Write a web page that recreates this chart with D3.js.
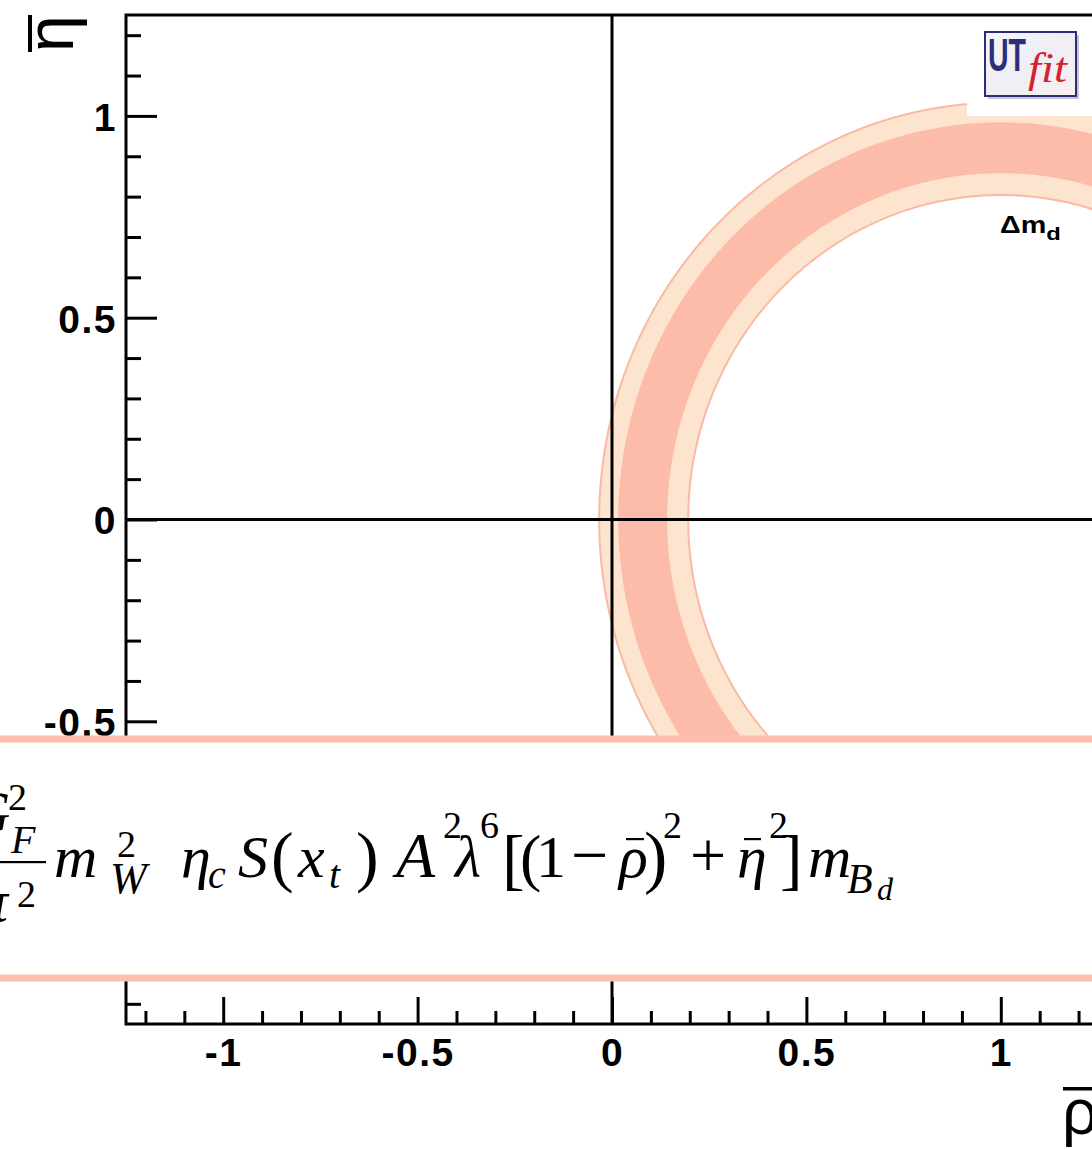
<!DOCTYPE html>
<html>
<head>
<meta charset="utf-8">
<script src="https://cdn.jsdelivr.net/npm/d3@7"></script>
<style>
  html, body { margin: 0; padding: 0; background: #fff; overflow: hidden; }
  svg { display: block; }
</style>
</head>
<body>
<svg id="chart" width="1092" height="1149"></svg>
<script>
// ρ̄–η̄ plane with the Δm_d constraint band
const xDomain = [-1.25, 1.25];
const yDomain = [-1.25, 1.25];
const majorTicks = [-1, -0.5, 0, 0.5, 1];
const majorTickLabels = ["-1", "-0.5", "0", "0.5", "1"];
const minorTicks = [-1.2, -1.1, -0.9, -0.8, -0.7, -0.6, -0.4, -0.3, -0.2, -0.1,
                    0.1, 0.2, 0.3, 0.4, 0.6, 0.7, 0.8, 0.9, 1.1, 1.2];
// Δm_d constraint: circle centred on (ρ̄, η̄) = (1, 0)
const ringCenter = [1, 0];
const band95 = [0.804, 1.033];   // 95% probability radii (inner, outer)
const band68 = [0.858, 0.984];   // 68% probability radii (inner, outer)
const bandLabel = "Δm";
const bandLabelSub = "d";

const svg = d3.select("#chart");
const W = 1092, H = 1149;

const x = d3.scaleLinear().domain(xDomain).range([126, 1098]);
const y = d3.scaleLinear().domain(yDomain).range([1024, 15]);

const col68 = "#fdbca9", col95 = "#fde4cf", colEdge = "#fbb9a5";

// plot clip
const defs = svg.append("defs");
defs.append("clipPath").attr("id", "plotClip").append("rect")
  .attr("x", x(xDomain[0])).attr("y", y(yDomain[1]))
  .attr("width", x(xDomain[1]) - x(xDomain[0]))
  .attr("height", y(yDomain[0]) - y(yDomain[1]));

const angles = d3.range(0, 360, 1).map(d => d * Math.PI / 180);
const circlePts = r => angles.map(a => [x(ringCenter[0] + r * Math.cos(a)), y(ringCenter[1] + r * Math.sin(a))]);
const closed = d3.line().curve(d3.curveLinearClosed);
const ringPath = ([r0, r1]) => closed(circlePts(r1)) + closed(circlePts(r0).reverse());

const ringG = svg.append("g").attr("clip-path", "url(#plotClip)");
ringG.append("path").attr("d", ringPath(band95))
  .attr("fill", col95).attr("fill-rule", "evenodd")
  .attr("stroke", colEdge).attr("stroke-width", 2);
ringG.append("path").attr("d", ringPath(band68))
  .attr("fill", col68).attr("fill-rule", "evenodd");

// crosshair at ρ̄ = 0 and η̄ = 0
svg.append("line").attr("x1", x(0)).attr("x2", x(0)).attr("y1", y(yDomain[1])).attr("y2", y(yDomain[0]))
  .attr("stroke", "#000").attr("stroke-width", 3);
svg.append("line").attr("x1", x(xDomain[0])).attr("x2", x(xDomain[1])).attr("y1", y(0)).attr("y2", y(0))
  .attr("stroke", "#000").attr("stroke-width", 3);

// axes
const fmt = d => majorTickLabels[majorTicks.indexOf(d)];
const styleAxis = g => {
  g.select(".domain").remove();
  g.selectAll(".tick line").attr("stroke", "#000").attr("stroke-width", 3);
  g.selectAll(".tick text").attr("fill", "#000")
    .style("font-family", "'Liberation Sans', Arial, sans-serif")
    .style("font-weight", "bold").style("font-size", "39px")
    .style("letter-spacing", "1.5px");
};

svg.append("g").attr("transform", `translate(${x(xDomain[0])},0)`)
  .call(d3.axisLeft(y).tickValues(minorTicks).tickSize(-15).tickFormat(""))
  .call(styleAxis);
svg.append("g").attr("transform", `translate(${x(xDomain[0])},0)`)
  .call(d3.axisLeft(y).tickValues(majorTicks).tickSize(-31).tickPadding(9).tickFormat(fmt))
  .call(styleAxis)
  .call(g => g.selectAll(".tick text").attr("dy", "0.37em"));

svg.append("g").attr("transform", `translate(0,${y(yDomain[0])})`)
  .call(d3.axisBottom(x).tickValues(minorTicks).tickSize(-13).tickFormat(""))
  .call(styleAxis);
svg.append("g").attr("transform", `translate(0,${y(yDomain[0])})`)
  .call(d3.axisBottom(x).tickValues(majorTicks).tickSize(-27).tickPadding(14).tickFormat(fmt))
  .call(styleAxis);

// frame
svg.append("rect")
  .attr("x", x(xDomain[0])).attr("y", y(yDomain[1]))
  .attr("width", x(xDomain[1]) - x(xDomain[0]))
  .attr("height", y(yDomain[0]) - y(yDomain[1]))
  .attr("fill", "none").attr("stroke", "#000").attr("stroke-width", 3);

// logo with its white pad
svg.append("rect").attr("x", 967).attr("y", 17).attr("width", 140).attr("height", 99).attr("fill", "#fff");
const lg = defs.append("linearGradient").attr("id", "logoBg").attr("x1", 0).attr("y1", 0).attr("x2", 1).attr("y2", 1);
lg.append("stop").attr("offset", "0%").attr("stop-color", "#f7f6fb");
lg.append("stop").attr("offset", "50%").attr("stop-color", "#efeef5");
lg.append("stop").attr("offset", "100%").attr("stop-color", "#f8f1ee");
svg.append("rect").attr("x", 988).attr("y", 35).attr("width", 91).attr("height", 64).attr("fill", "#b8b8c4").attr("opacity", 0.8);
svg.append("rect").attr("x", 985).attr("y", 32).attr("width", 91).attr("height", 64)
  .attr("fill", "url(#logoBg)").attr("stroke", "#2a2c7c").attr("stroke-width", 2);
const logo = svg.append("text");
logo.append("tspan").attr("x", 988).attr("y", 71)
  .attr("textLength", 38).attr("lengthAdjust", "spacingAndGlyphs")
  .style("font-family", "'Liberation Sans', Arial, sans-serif").style("font-weight", "bold")
  .style("font-size", "46px").attr("fill", "#2b2e7a").text("UT");
logo.append("tspan").attr("x", 1028).attr("y", 82)
  .attr("textLength", 39).attr("lengthAdjust", "spacingAndGlyphs")
  .style("font-family", "'Liberation Serif', serif").style("font-style", "italic")
  .style("font-size", "42px").attr("fill", "#d8202c").text("fit");

// band label
const lbl = svg.append("text").attr("transform", "translate(1000,233) scale(1.25,1)")
  .style("font-family", "'Liberation Sans', Arial, sans-serif").style("font-weight", "bold")
  .style("font-size", "23px").attr("fill", "#000");
lbl.append("tspan").text(bandLabel);
lbl.append("tspan").attr("dy", 7).style("font-size", "19px").text(bandLabelSub);

// formula box
svg.append("rect").attr("x", -5).attr("y", 739).attr("width", W + 10).attr("height", 239)
  .attr("fill", "#fff").attr("stroke", "#fcbfac").attr("stroke-width", 7);

const fg = svg.append("g").attr("fill", "#000");
const formula = fg.append("text")
  .style("font-family", "'Liberation Serif', 'Times New Roman', serif");
const piece = (t, px, py, size, italic) => formula.append("tspan")
  .attr("x", px).attr("y", py)
  .style("font-size", size + "px").style("font-style", italic ? "italic" : "normal").text(t);

// G_F^2 / (6π^2)
piece("6π", -52, 921, 60, true);
piece("2", 17, 907, 38, false);
piece("G", -33, 832, 60, true);
piece("2", 8, 810, 38, false);
piece("F", 11, 853, 40, true);
fg.append("rect").attr("x", -80).attr("y", 861).attr("width", 126).attr("height", 2.2);
// m_W^2
piece("m", 54, 877, 60, true);
piece("2", 117, 857, 38, false);
piece("W", 110, 893, 44, true);
// η_c S(x_t)
piece("η", 181, 877, 60, true);
piece("c", 208, 888, 40, true);
piece("S", 238, 877, 60, true);
piece("(", 271, 879, 68, false);
piece("x", 298, 877, 60, true);
piece("t", 329, 888, 40, true);
piece(")", 356, 879, 68, false);
// A^2 λ^6
piece("A", 396, 877, 64, true);
piece("2", 443, 838, 38, false);
piece("λ", 455, 877, 60, true);
piece("6", 480, 838, 38, false);
// [(1 − ρ̄)^2 + η̄^2]
piece("[", 502, 882, 68, false);
piece("(", 520, 879, 64, false);
piece("1", 536, 877, 60, false);
piece("−", 571, 877, 66, false);
piece("ρ", 619, 877, 60, true);
fg.append("rect").attr("x", 626).attr("y", 838).attr("width", 18).attr("height", 2.2);
piece(")", 644, 880, 70, false);
piece("2", 663, 838, 38, false);
piece("+", 690, 877, 64, false);
piece("η", 737, 877, 60, true);
fg.append("rect").attr("x", 744).attr("y", 838).attr("width", 17).attr("height", 2.2);
piece("2", 769, 838, 38, false);
piece("]", 780, 882, 68, false);
// m_{B_d}
piece("m", 808, 877, 60, true);
piece("B", 847, 893, 42, true);
piece("d", 877, 900, 32, true);

// axis titles
svg.append("text").attr("transform", "translate(73,52) rotate(-90)")
  .style("font-family", "'Liberation Sans', Arial, sans-serif").style("font-size", "66px")
  .attr("fill", "#000").text("η");
svg.append("rect").attr("x", 28).attr("y", 15).attr("width", 4).attr("height", 37).attr("fill", "#000");
svg.append("text").attr("x", 1062).attr("y", 1134)
  .style("font-family", "'Liberation Sans', Arial, sans-serif").style("font-size", "64px")
  .attr("fill", "#000").text("ρ");
svg.append("rect").attr("x", 1063).attr("y", 1087).attr("width", 40).attr("height", 3.5).attr("fill", "#000");
</script>
</body>
</html>
